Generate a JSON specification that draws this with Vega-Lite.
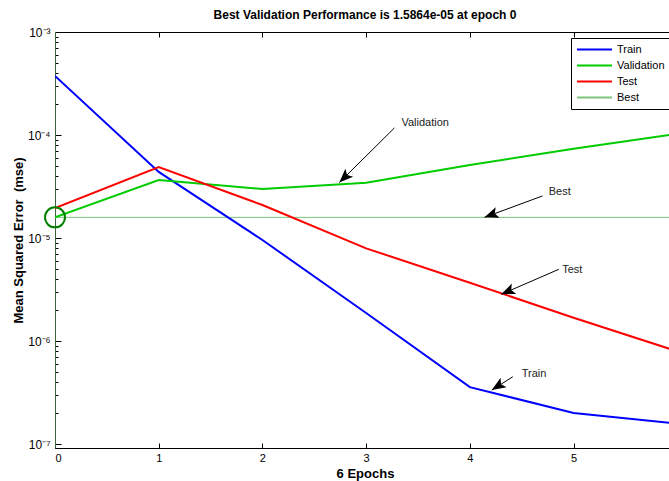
{
  "$schema": "https://vega.github.io/schema/vega-lite/v6.json",
  "width": 614,
  "height": 416,
  "autosize": {"type": "none"},
  "padding": {"left": 55, "top": 32, "right": 0, "bottom": 33},
  "background": "white",
  "config": {
    "view": {"stroke": "black", "strokeWidth": 1},
    "font": "Liberation Sans",
    "axis": {"grid": false, "labelColor": "black", "titleColor": "black", "labelFont": "Liberation Sans", "titleFont": "Liberation Sans"},
    "legend": {
      "orient": "none", "legendX": 516, "legendY": 6,
      "strokeColor": "black", "fillColor": "white", "padding": 6,
      "labelFontSize": 11, "labelColor": "black", "labelFont": "Liberation Sans",
      "symbolStrokeWidth": 2, "symbolType": "M-5,0H5", "symbolSize": 49, "symbolOffset": 12,
      "labelOffset": 17, "rowPadding": 4, "title": null, "cornerRadius": 0
    }
  },
  "title": {
    "text": "Best Validation Performance is 1.5864e-05 at epoch 0",
    "fontSize": 12, "fontWeight": "bold", "font": "Liberation Sans", "color": "black",
    "anchor": "middle", "offset": 4, "dx": 3
  },
  "datasets": {
    "perf": [
      {"epoch": 0, "perf": 3.74e-4, "series": "Train"},
      {"epoch": 1, "perf": 4.38e-5, "series": "Train"},
      {"epoch": 2, "perf": 9.57e-6, "series": "Train"},
      {"epoch": 3, "perf": 1.87e-6, "series": "Train"},
      {"epoch": 4, "perf": 3.57e-7, "series": "Train"},
      {"epoch": 5, "perf": 2.0e-7, "series": "Train"},
      {"epoch": 6, "perf": 1.58e-7, "series": "Train"},
      {"epoch": 0, "perf": 1.5864e-5, "series": "Validation"},
      {"epoch": 1, "perf": 3.66e-5, "series": "Validation"},
      {"epoch": 2, "perf": 2.99e-5, "series": "Validation"},
      {"epoch": 3, "perf": 3.44e-5, "series": "Validation"},
      {"epoch": 4, "perf": 5.12e-5, "series": "Validation"},
      {"epoch": 5, "perf": 7.36e-5, "series": "Validation"},
      {"epoch": 6, "perf": 1.03e-4, "series": "Validation"},
      {"epoch": 0, "perf": 1.95e-5, "series": "Test"},
      {"epoch": 1, "perf": 4.89e-5, "series": "Test"},
      {"epoch": 2, "perf": 2.09e-5, "series": "Test"},
      {"epoch": 3, "perf": 7.94e-6, "series": "Test"},
      {"epoch": 4, "perf": 3.68e-6, "series": "Test"},
      {"epoch": 5, "perf": 1.68e-6, "series": "Test"},
      {"epoch": 6, "perf": 7.94e-7, "series": "Test"}
    ],
    "best": [{"epoch": 0, "perf": 1.5864e-5}],
    "notes": [
      {"label": "Validation", "tx": 3.34, "ty": 1.31e-4, "x1": 3.272, "y1": 1.17e-4, "x2": 2.741, "y2": 3.45e-5},
      {"label": "Best", "tx": 4.76, "ty": 2.80e-5, "x1": 4.70, "y1": 2.56e-5, "x2": 4.141, "y2": 1.5864e-5},
      {"label": "Test", "tx": 4.89, "ty": 4.89e-6, "x1": 4.858, "y1": 4.97e-6, "x2": 4.302, "y2": 2.84e-6},
      {"label": "Train", "tx": 4.50, "ty": 4.79e-7, "x1": 4.414, "y1": 4.50e-7, "x2": 4.211, "y2": 3.34e-7}
    ]
  },
  "layer": [
    {
      "data": {"name": "best"},
      "mark": {"type": "rule", "strokeWidth": 1, "clip": true},
      "encoding": {
        "x": {"field": "epoch", "type": "quantitative",
          "scale": {"domain": [0, 5.92], "nice": false, "zero": false},
          "axis": {"orient": "bottom", "labels": false, "domain": false, "ticks": true, "tickSize": -5, "tickColor": "black", "values": [0, 1, 2, 3, 4, 5], "title": null}},
        "color": {"datum": "Best"}
      }
    },
    {
      "data": {"name": "best"},
      "mark": {"type": "rule", "strokeWidth": 1, "clip": true},
      "encoding": {
        "y": {"field": "perf", "type": "quantitative",
          "scale": {"type": "log", "domain": [9.15e-8, 1e-3], "nice": false},
          "axis": {"orient": "left", "labels": false, "domain": false, "ticks": true, "tickColor": "black",
            "tickSize": {"condition": {"test": "abs(log(datum.value)/LN10 - round(log(datum.value)/LN10)) < 0.001", "value": -6}, "value": -3},
            "values": [1e-7, 2e-7, 3e-7, 4e-7, 5e-7, 6e-7, 7e-7, 8e-7, 9e-7, 1e-6, 2e-6, 3e-6, 4e-6, 5e-6, 6e-6, 7e-6, 8e-6, 9e-6, 1e-5, 2e-5, 3e-5, 4e-5, 5e-5, 6e-5, 7e-5, 8e-5, 9e-5, 1e-4, 2e-4, 3e-4, 4e-4, 5e-4, 6e-4, 7e-4, 8e-4, 9e-4, 1e-3],
            "title": null}},
        "color": {"datum": "Best"}
      }
    },
    {
      "data": {"name": "perf"},
      "mark": {"type": "line", "strokeWidth": 2, "clip": true},
      "encoding": {
        "x": {"field": "epoch", "type": "quantitative",
          "axis": {"orient": "bottom", "ticks": false, "domain": false, "values": [0, 1, 2, 3, 4, 5], "format": "d",
            "labelFontSize": 11, "labelPadding": 4,
            "title": "6 Epochs", "titleFontSize": 13, "titleFontWeight": "bold", "titleX": 310, "titleY": 25, "titleBaseline": "middle", "titleAlign": "center"}},
        "y": {"field": "perf", "type": "quantitative",
          "axis": {"orient": "left", "ticks": false, "domain": false, "values": [1e-7, 1e-6, 1e-5, 1e-4, 1e-3],
            "labelExpr": "'10⁻' + ['⁰','¹','²','³','⁴','⁵','⁶','⁷','⁸','⁹'][-round(log(datum.value)/LN10)]",
            "labelFontSize": 12, "labelPadding": 5,
            "title": "Mean Squared Error \u00a0(mse)", "titleFontSize": 13, "titleFontWeight": "bold", "titleX": -30, "titleY": 208, "titleAngle": -90, "titleBaseline": "bottom", "titleAlign": "center"}},
        "color": {"field": "series", "type": "nominal",
          "scale": {"domain": ["Train", "Validation", "Test", "Best"], "range": ["#0000ff", "#00cc00", "#ff0000", "#7cc47c"]},
          "legend": {"title": null}}
      }
    },
    {
      "data": {"name": "best"},
      "mark": {"type": "point", "shape": "circle", "size": 400, "filled": false, "stroke": "#008000", "strokeWidth": 2, "opacity": 1},
      "encoding": {
        "x": {"field": "epoch", "type": "quantitative",
          "axis": {"orient": "top", "labels": false, "domain": false, "ticks": true, "tickSize": -5, "tickColor": "black", "values": [0, 1, 2, 3, 4, 5], "title": null}},
        "y": {"field": "perf", "type": "quantitative", "axis": null}
      }
    },
    {
      "data": {"name": "notes"},
      "mark": {"type": "rule", "color": "black", "strokeWidth": 1},
      "encoding": {
        "x": {"field": "x1", "type": "quantitative", "axis": null},
        "y": {"field": "y1", "type": "quantitative", "axis": null},
        "x2": {"field": "x2"},
        "y2": {"field": "y2"}
      }
    },
    {
      "data": {"name": "notes"},
      "transform": [{"filter": "datum.label == 'Validation'"}],
      "mark": {"type": "point", "shape": "M0,0L-1,-0.4L-0.78,0L-1,0.4Z", "size": 784, "filled": true, "color": "black", "opacity": 1, "angle": 135.5},
      "encoding": {
        "x": {"field": "x2", "type": "quantitative", "axis": null},
        "y": {"field": "y2", "type": "quantitative", "axis": null}
      }
    },
    {
      "data": {"name": "notes"},
      "transform": [{"filter": "datum.label == 'Best'"}],
      "mark": {"type": "point", "shape": "M0,0L-1,-0.4L-0.78,0L-1,0.4Z", "size": 784, "filled": true, "color": "black", "opacity": 1, "angle": 159.7},
      "encoding": {
        "x": {"field": "x2", "type": "quantitative", "axis": null},
        "y": {"field": "y2", "type": "quantitative", "axis": null}
      }
    },
    {
      "data": {"name": "notes"},
      "transform": [{"filter": "datum.label == 'Test'"}],
      "mark": {"type": "point", "shape": "M0,0L-1,-0.4L-0.78,0L-1,0.4Z", "size": 784, "filled": true, "color": "black", "opacity": 1, "angle": 156.5},
      "encoding": {
        "x": {"field": "x2", "type": "quantitative", "axis": null},
        "y": {"field": "y2", "type": "quantitative", "axis": null}
      }
    },
    {
      "data": {"name": "notes"},
      "transform": [{"filter": "datum.label == 'Train'"}],
      "mark": {"type": "point", "shape": "M0,0L-1,-0.4L-0.78,0L-1,0.4Z", "size": 784, "filled": true, "color": "black", "opacity": 1, "angle": 147.7},
      "encoding": {
        "x": {"field": "x2", "type": "quantitative", "axis": null},
        "y": {"field": "y2", "type": "quantitative", "axis": null}
      }
    },
    {
      "data": {"name": "notes"},
      "mark": {"type": "text", "align": "left", "baseline": "middle", "fontSize": 11, "color": "#222222", "font": "Liberation Sans"},
      "encoding": {
        "x": {"field": "tx", "type": "quantitative", "axis": null},
        "y": {"field": "ty", "type": "quantitative", "axis": null},
        "text": {"field": "label"}
      }
    }
  ],
  "resolve": {"axis": {"x": "independent", "y": "independent"}}
}
